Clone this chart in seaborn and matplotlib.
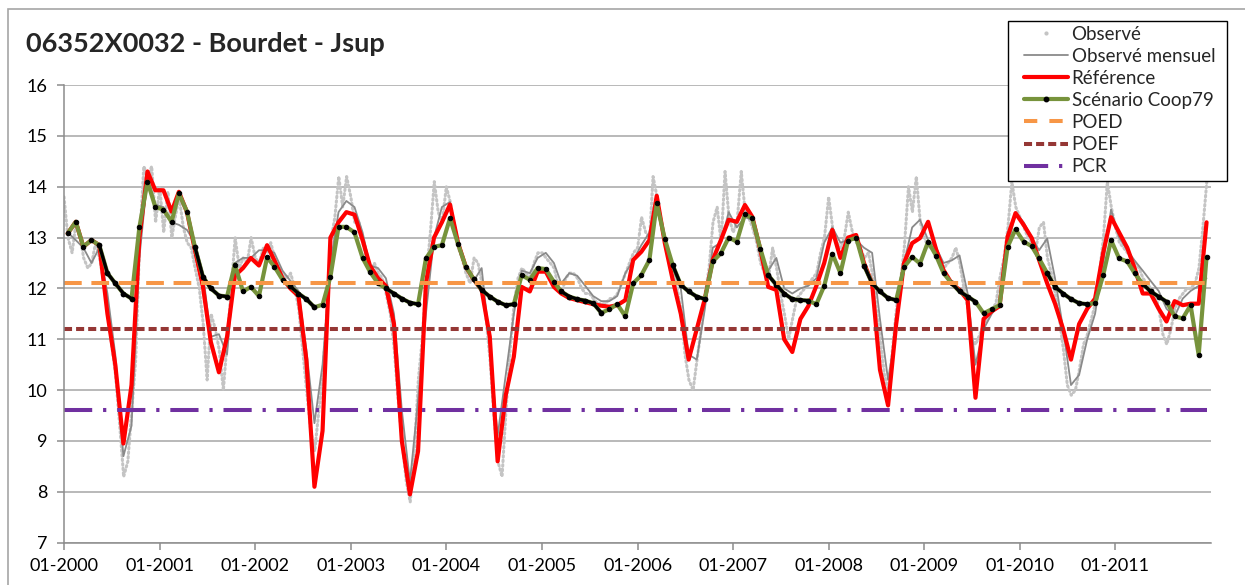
import matplotlib
matplotlib.use('Agg')
import matplotlib.pyplot as plt
import matplotlib.dates as mdates
from matplotlib.lines import Line2D
from matplotlib.patches import Rectangle
import seaborn as sns
import pandas as pd

titre = '06352X0032 - Bourdet - Jsup'
noms = ['Observé', 'Observé mensuel', 'Référence', 'Scénario Coop79', 'POED', 'POEF', 'PCR']

# niveaux observes, deux valeurs par mois (1er et 16)
observe = [
    13.8, 13.0, 12.7, 13.3, 13.1, 12.6, 12.4, 12.5, 12.9, 12.6, 12.1, 11.6,
    10.9, 10.3, 9.3, 8.3, 8.6, 9.6, 10.6, 12.9, 14.4, 14.2, 14.4, 13.3,
    14.0, 13.1, 13.9, 13.0, 13.4, 13.8, 13.2, 12.9, 12.8, 12.4, 12.0, 11.3,
    10.2, 11.5, 11.2, 10.8, 10.0, 11.0, 12.0, 13.0, 12.4, 12.6, 12.5, 13.0,
    12.6, 12.5, 12.8, 12.7, 12.9, 12.6, 12.4, 12.3, 12.2, 12.3, 12.0, 11.6,
    10.8, 10.0, 9.2, 8.8, 9.6, 10.3, 11.5, 12.9, 13.4, 14.2, 13.6, 14.2,
    13.8, 13.3, 13.3, 12.9, 12.6, 12.3, 12.5, 12.3, 12.2, 11.9, 11.5, 10.8,
    9.8, 9.0, 8.2, 7.8, 8.8, 10.2, 11.0, 12.2, 13.1, 14.1, 13.5, 13.3,
    14.0, 13.7, 13.2, 12.8, 12.6, 12.3, 12.1, 12.6, 12.5, 12.1, 11.4, 10.6,
    9.5, 8.6, 8.3, 9.6, 10.8, 11.7, 12.2, 12.4, 12.3, 12.2, 12.5, 12.7,
    12.7, 12.6, 12.5, 12.4, 12.1, 11.9, 12.2, 12.3, 12.3, 12.2, 12.0, 11.9,
    11.9, 11.8, 11.7, 11.7, 11.7, 11.8, 11.8, 11.9, 12.1, 12.3, 12.5, 12.7,
    12.8, 13.4, 13.1, 13.0, 14.2, 13.8, 13.3, 12.9, 12.6, 12.3, 12.0, 11.6,
    10.7, 10.2, 10.0, 10.6, 11.2, 11.9, 12.4, 13.3, 13.6, 12.9, 14.3, 13.4,
    13.1, 13.3, 14.3, 13.5, 13.4, 13.2, 12.9, 12.5, 12.3, 12.2, 12.8, 12.4,
    11.9, 11.5, 11.0, 11.4, 11.8, 11.9, 12.0, 12.1, 12.2, 12.3, 12.7, 13.0,
    13.8, 13.2, 12.9, 12.8, 13.0, 13.5, 13.1, 12.9, 12.8, 12.6, 12.7, 12.3,
    11.6, 11.0, 10.3, 10.0, 10.8, 11.6, 12.1, 12.8, 14.0, 13.5, 14.2, 13.3,
    13.0, 12.8, 12.8, 12.7, 12.5, 12.4, 12.5, 12.6, 12.8, 12.5, 12.0, 11.6,
    11.0, 10.9, 11.1, 11.3, 11.4, 11.6, 11.7, 12.2, 12.6, 13.2, 14.1, 13.6,
    13.4, 13.2, 13.0, 12.9, 12.7, 13.2, 13.3, 12.6, 12.3, 11.9, 11.4, 10.8,
    10.1, 9.9, 10.0, 10.4, 10.9, 11.1, 11.4, 11.7, 12.3, 13.0, 14.1, 13.6,
    13.2, 12.9, 12.8, 12.7, 12.6, 12.5, 12.4, 12.2, 12.1, 12.0, 11.9, 11.6,
    11.1, 10.9, 11.2, 11.6, 11.8, 11.9, 12.0, 12.0, 12.1, 12.4, 13.2, 14.1,
]

mensuel = [
    13.1, 12.95, 12.8, 12.5, 12.8, 11.9, 10.7, 8.7, 9.3, 12.6, 14.2, 13.65,
    13.6, 13.3, 13.25, 13.15, 12.9, 12.3, 11.05, 11.1, 10.7, 12.5, 12.6, 12.6,
    12.75, 12.75, 12.7, 12.35, 12.15, 11.95, 10.8, 9.35, 10.5, 12.5, 13.5, 13.72,
    13.6, 13.1, 12.45, 12.4, 12.2, 11.5, 9.6, 8.2, 9.8, 11.5, 13.0, 13.6,
    13.7, 12.95, 12.45, 12.15, 12.4, 10.9, 9.1, 10.3, 11.5, 12.35, 12.3, 12.6,
    12.7, 12.5, 12.1, 12.3, 12.25, 12.05, 11.85, 11.75, 11.75, 11.85, 12.3, 12.55,
    12.85, 13.1, 13.7, 13.0, 12.4, 12.0, 10.7, 10.6, 11.6, 12.8, 12.9, 13.5,
    13.2, 13.4, 13.35, 12.7, 12.35, 12.6, 12.0, 11.9, 12.0, 12.05, 12.2, 12.9,
    13.2, 12.9, 12.95, 12.95, 12.8, 12.7, 11.4, 10.2, 11.2, 12.5, 13.2, 13.35,
    12.95, 12.8, 12.5, 12.55, 12.65, 11.9, 10.5, 11.2, 11.5, 11.7, 12.8, 13.5,
    13.3, 13.0, 12.75, 12.98, 12.2, 11.2, 10.1, 10.3, 11.0, 11.5, 12.5, 13.55,
    13.0, 12.75, 12.55, 12.35, 12.15, 11.95, 11.6, 11.45, 11.8, 11.95, 12.05, 12.2,
]

reference = [
    13.08, 13.31, 12.82, 12.95, 12.85, 11.5, 10.5, 8.95, 10.1, 13.0, 14.3, 13.93,
    13.93, 13.51, 13.9, 13.5, 12.76, 12.03, 10.95, 10.35, 11.05, 12.25, 12.4, 12.6,
    12.45, 12.85, 12.55, 12.2, 12.0, 11.85, 10.6, 8.1, 9.2, 13.0, 13.3, 13.5,
    13.45, 12.95, 12.45, 12.2, 12.05, 11.3, 9.0, 7.95, 8.8, 12.1, 13.0, 13.3,
    13.65, 12.89, 12.43, 12.17, 11.97, 11.05, 8.6, 9.9, 10.66, 12.03, 11.94, 12.33,
    12.33, 12.03, 11.9, 11.81, 11.77, 11.73, 11.69, 11.66, 11.64, 11.67, 11.77, 12.56,
    12.72, 12.95, 13.82, 12.89, 12.17, 11.5, 10.6, 11.2, 11.8, 12.56, 12.95, 13.35,
    13.31, 13.64, 13.41, 12.76, 12.03, 11.97, 11.0, 10.75, 11.4, 11.65, 12.05, 12.5,
    13.15, 12.6, 13.0, 13.05, 12.5, 12.1, 10.4, 9.7, 11.3, 12.5, 12.89, 12.99,
    13.31, 12.76, 12.36, 12.1, 11.97, 11.77, 9.85, 11.4, 11.55, 11.65, 13.02, 13.48,
    13.25, 12.99, 12.56, 12.1, 11.7, 11.2, 10.6, 11.3, 11.6, 11.8, 12.7, 13.4,
    13.1, 12.8, 12.4, 11.9, 11.9, 11.6, 11.35, 11.75, 11.67, 11.7, 11.7, 13.3,
]

scenario = [
    13.08, 13.31, 12.82, 12.95, 12.85, 12.3, 12.1, 11.9, 11.8, 13.2, 14.1, 13.6,
    13.55, 13.31, 13.87, 13.51, 12.82, 12.23, 12.0, 11.86, 11.84, 12.47, 11.94, 12.03,
    11.85, 12.61, 12.43, 12.17, 12.04, 11.9, 11.79, 11.63, 11.68, 12.23, 13.21, 13.21,
    13.1, 12.6, 12.33, 12.1, 12.0, 11.9, 11.8, 11.72, 11.69, 12.59, 12.82, 12.85,
    13.38, 12.87, 12.43, 12.18, 11.97, 11.84, 11.74, 11.67, 11.69, 12.26, 12.17, 12.4,
    12.38, 12.13, 11.94, 11.84, 11.79, 11.76, 11.71, 11.52, 11.59, 11.69, 11.45, 12.1,
    12.26, 12.56, 13.67, 12.97, 12.46, 12.07, 11.94, 11.84, 11.79, 12.53, 12.69, 13.0,
    12.92, 13.46, 13.38, 12.78, 12.26, 12.07, 11.9, 11.79, 11.77, 11.76, 11.69, 12.05,
    12.68, 12.3, 12.94, 13.0, 12.45, 12.1, 11.94, 11.81, 11.77, 12.42, 12.62, 12.49,
    12.92, 12.64, 12.3, 12.1, 11.94, 11.84, 11.74, 11.51, 11.59, 11.67, 12.82, 13.16,
    12.92, 12.83, 12.59, 12.3, 12.03, 11.9, 11.79, 11.71, 11.69, 11.71, 12.26, 12.95,
    12.59, 12.53, 12.3, 12.09, 11.94, 11.84, 11.74, 11.45, 11.41, 11.67, 10.69, 12.62,
]

# periodes de tarissement du scenario (indices de mois, debut et fin)
tarissements = [(4, 8), (16, 20), (28, 31), (40, 44), (51, 56), (62, 67),
                (76, 80), (88, 93), (100, 104), (111, 114), (123, 128), (135, 138)]

seuils = {'POED': 12.1, 'POEF': 11.2, 'PCR': 9.6}

debuts = pd.date_range('2000-01-01', periods=144, freq='MS')
mois = debuts + pd.Timedelta(days=14)
jours = []
for d in debuts:
    jours += [d, d + pd.Timedelta(days=15)]
annees = pd.date_range('2000-01-01', '2012-01-01', freq='YS')

sns.set_style('white')
plt.rcParams['font.family'] = ['Lato', 'DejaVu Sans']

fig = plt.figure(figsize=(12.45, 5.85), dpi=100)
fig.patches.append(Rectangle((8 / 1245, -0.1), 1.2, 1.1 - 9 / 585, transform=fig.transFigure,
                             fill=False, edgecolor='#a6a6a6', lw=1.2))
ax = fig.add_axes([64 / 1245, 1 - 542.7 / 585, (1211 - 64) / 1245, (542.7 - 85) / 585])

gris_pts = '#c4c4c4'
gris = '#8a8a8a'
rouge = '#ff0000'
vert = '#77933c'
styles = {
    'POED': ('#f79646', (0, (4.4, 2.4))),
    'POEF': ('#953735', (0, (2.0, 1.0))),
    'PCR': ('#7030a0', (0, (7.0, 2.7, 0.8, 2.7))),
}

sns.lineplot(x=jours, y=observe, ax=ax, color=gris_pts, lw=2.2,
             linestyle=(0, (0.5, 1.0)), dash_capstyle='round')
sns.lineplot(x=mois, y=mensuel, ax=ax, color=gris, lw=1.3)
sns.lineplot(x=mois, y=reference, ax=ax, color=rouge, lw=3.0)
sns.lineplot(x=mois, y=scenario, ax=ax, color=vert, lw=3.0, marker='o', markersize=3.2,
             markerfacecolor='black', markeredgecolor='black')
for a, b in tarissements:
    sns.lineplot(x=mois[a:b + 1], y=scenario[a:b + 1], ax=ax, color='black', lw=2.4,
                 marker='o', markersize=3.2, markerfacecolor='black', markeredgecolor='black')
for nom, val in seuils.items():
    coul, tirets = styles[nom]
    sns.lineplot(x=[jours[0], jours[-1]], y=[val, val], ax=ax, color=coul, lw=2.9, linestyle=tirets)

ax.set_xlim(annees[0], annees[-1])
ax.set_ylim(7, 16)
ax.set_yticks(range(7, 17))
ax.set_xticks(annees[:-1])
ax.xaxis.set_major_formatter(mdates.DateFormatter('%m-%Y'))
ax.set_xlabel('')
ax.set_ylabel('')
ax.yaxis.grid(True, color='#a6a6a6', lw=1.1)
ax.xaxis.grid(False)
for cote in ['top', 'right']:
    ax.spines[cote].set_visible(False)
for cote in ['left', 'bottom']:
    ax.spines[cote].set_color('#8c8c8c')
    ax.spines[cote].set_linewidth(1.1)
ax.tick_params(axis='both', direction='out', length=5, width=1.1, color='#8c8c8c',
               labelsize=13, labelcolor='black')
ax.tick_params(axis='y', pad=7, left=True)
ax.tick_params(axis='x', pad=6, bottom=True)

fig.text(26 / 1245, 1 - 52 / 585, titre, fontsize=19.5, fontweight='bold', va='baseline', ha='left')

poignees = [
    Line2D([], [], ls='none', marker='o', ms=2, color=gris_pts),
    Line2D([], [], color=gris, lw=1.3),
    Line2D([], [], color=rouge, lw=3.0),
    Line2D([], [], color=vert, lw=3.0, marker='o', ms=3.2, mfc='black', mec='black'),
    Line2D([], [], color=styles['POED'][0], lw=2.9, ls=(0, (3.3, 3.0))),
    Line2D([], [], color=styles['POEF'][0], lw=2.9, ls=(0, (2.0, 1.0))),
    Line2D([], [], color=styles['PCR'][0], lw=2.9, ls=(0, (6.0, 2.7, 0.8, 2.7))),
]
fig.patches.append(Rectangle((1008 / 1245, 1 - 181 / 585), 219 / 1245, 160 / 585,
                             transform=fig.transFigure, facecolor='white', edgecolor='black',
                             lw=1.0, zorder=4))
leg = fig.legend(poignees, noms, loc='upper left', bbox_to_anchor=(1020 / 1245, 1 - 22 / 585),
                 frameon=False, fontsize=13.5, handlelength=2.35, handletextpad=0.2,
                 labelspacing=0.27, borderpad=0.2, borderaxespad=0)
leg.set_zorder(5)

fig.savefig('out.png', dpi=100)
